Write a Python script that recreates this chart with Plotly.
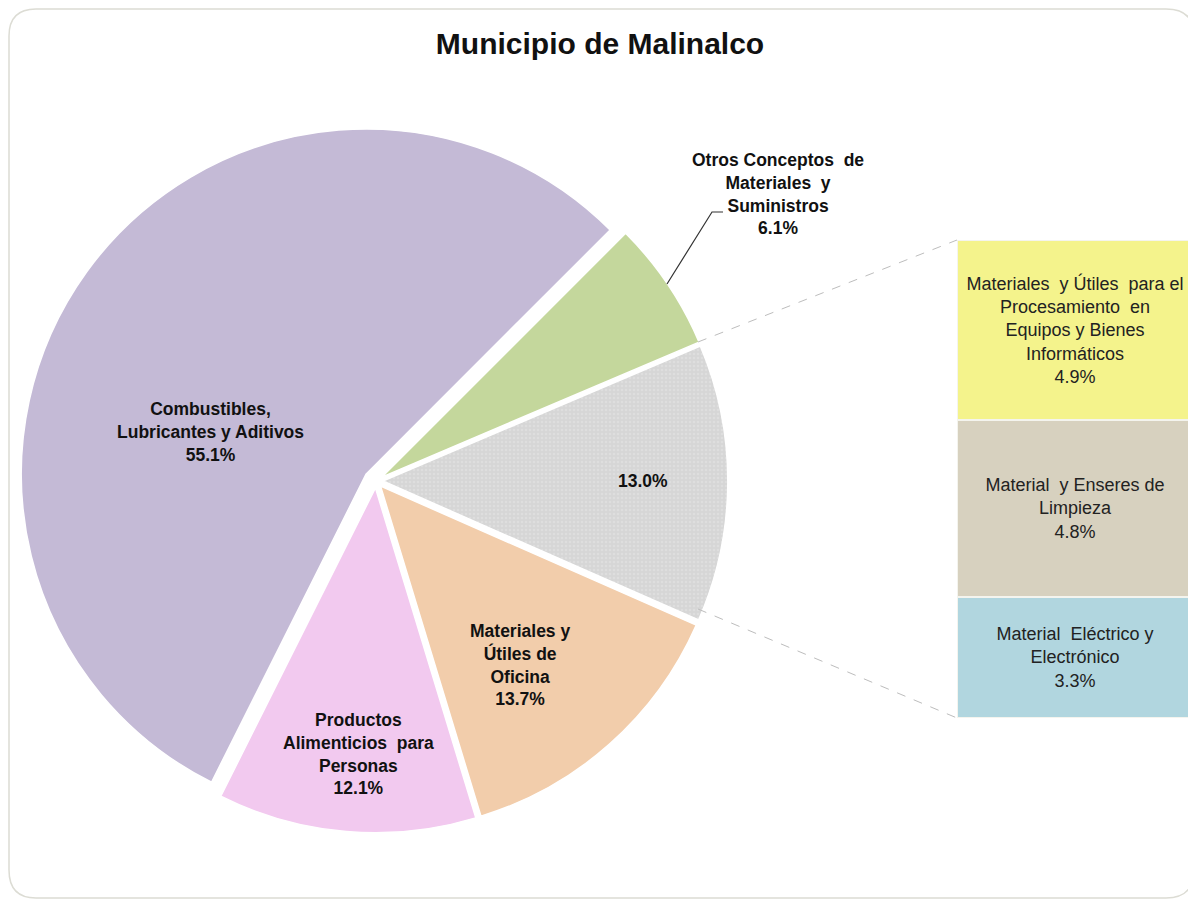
import plotly.graph_objects as go

W, H = 1196, 903
OFF = 8  # page body margin
FW, FH = W - OFF, H - OFF

# ---- data ----
pie_labels = ["Otros Conceptos de Materiales y Suministros",
              "Otros",
              "Materiales y Útiles de Oficina",
              "Productos Alimenticios para Personas",
              "Combustibles, Lubricantes y Aditivos"]
pie_values = [6.1, 13.0, 13.7, 12.1, 55.1]
pie_colors = ["#C4D79C", "#D6D6D6", "#F2CDAB", "#F2C9EF", "#C4BAD6"]
pie_text = ["Otros Conceptos  de<br>Materiales  y<br>Suministros<br>6.1%",
            "13.0%",
            "Materiales y<br>Útiles de<br>Oficina<br>13.7%",
            "Productos<br>Alimenticios  para<br>Personas<br>12.1%",
            "Combustibles,<br>Lubricantes y Aditivos<br>55.1%"]

bar_labels = ["Material Eléctrico y Electrónico",
              "Material y Enseres de Limpieza",
              "Materiales y Útiles para el Procesamiento en Equipos y Bienes Informáticos"]
bar_values = [3.3, 4.8, 4.9]
bar_colors = ["#B1D6DF", "#D7D1BF", "#F4F38C"]
bar_text = ["Material  Eléctrico y<br>Electrónico<br>3.3%",
            "Material  y Enseres de<br>Limpieza<br>4.8%",
            "Materiales  y Útiles  para el<br>Procesamiento  en<br>Equipos y Bienes<br>Informáticos<br>4.9%"]

FONT = "Liberation Sans, Arial, sans-serif"


def px(x):
    return (x - OFF) / FW


def py(y):
    return 1 - (y - OFF) / FH


fig = go.Figure()

pulls = [0.02, 0.02, 0.02, 0.02, 0.035]
cx, cy, half = 376, 481, 357
fig.add_trace(go.Pie(
    labels=pie_labels, values=pie_values, sort=False, direction="clockwise",
    rotation=45, pull=pulls, textinfo="none", hoverinfo="label+percent",
    marker=dict(colors=pie_colors, line=dict(color="white", width=1.5),
                pattern=dict(shape=["", ".", "", "", ""], fgcolor="#E6E6E6",
                             fillmode="overlay", size=4, solidity=0.3)),
    domain=dict(x=[px(cx - half), px(cx + half)], y=[py(cy + half), py(cy - half)]),
    showlegend=False,
))

for v, c, t, n in zip(bar_values, bar_colors, bar_text, bar_labels):
    fig.add_trace(go.Bar(
        x=[0], y=[v], width=1, name=n, marker=dict(color=c, line=dict(color="#F4F4EE", width=2)),
        text=[t], textposition="inside", insidetextanchor="middle", textangle=0,
        constraintext="none", texttemplate="%{text}",
        textfont=dict(family=FONT, size=18, color="#222222"),
        xaxis="x", yaxis="y", showlegend=False, hoverinfo="name+y",
    ))

# label annotations for the pie
ann_pos = [(778, 194), (643, 481), (520, 665), (358, 754), (210, 432)]
annotations = []
for t, (ax_, ay_) in zip(pie_text, ann_pos):
    annotations.append(dict(
        x=px(ax_), y=py(ay_), xref="paper", yref="paper", text=t, showarrow=False,
        font=dict(family=FONT, size=17.5, color="#111111", weight="bold"),
        xanchor="center", yanchor="middle", align="center"))

shapes = [
    # chart border
    dict(type="path", xref="paper", yref="paper",
         path=(f"M {px(9)},{py(36)} Q {px(9)},{py(9)} {px(36)},{py(9)} "
               f"L {px(1166)},{py(9)} Q {px(1194)},{py(9)} {px(1194)},{py(36)} "
               f"L {px(1194)},{py(870)} Q {px(1194)},{py(898)} {px(1166)},{py(898)} "
               f"L {px(36)},{py(898)} Q {px(9)},{py(898)} {px(9)},{py(870)} Z"),
         line=dict(color="#DCDCD4", width=1.5), layer="below"),
    # connector lines
    dict(type="line", xref="paper", yref="paper", x0=px(698), y0=py(342), x1=px(957), y1=py(240),
         line=dict(color="#BDBDBD", width=1, dash="dash")),
    dict(type="line", xref="paper", yref="paper", x0=px(698), y0=py(609), x1=px(957), y1=py(718),
         line=dict(color="#BDBDBD", width=1, dash="dash")),
    # leader line for small slice
    dict(type="path", xref="paper", yref="paper",
         path=f"M {px(667)},{py(284)} L {px(712)},{py(212)} L {px(723)},{py(212)}",
         line=dict(color="#333333", width=1.2)),
]

fig.update_layout(
    width=FW, height=FH, margin=dict(l=0, r=0, t=0, b=0),
    paper_bgcolor="white", plot_bgcolor="rgba(0,0,0,0)",
    barmode="stack", bargap=0,
    title=dict(text="Municipio de Malinalco", x=px(600), xanchor="center", y=py(43), yanchor="middle",
               font=dict(family=FONT, size=30, color="#111111", weight="bold")),
    xaxis=dict(domain=[px(957), px(1193)], range=[-0.5, 0.5], visible=False, fixedrange=True),
    yaxis=dict(domain=[py(718), py(240)], range=[0, sum(bar_values)], visible=False, fixedrange=True),
    annotations=annotations, shapes=shapes, font=dict(family=FONT),
)

fig.write_html("out.html")
